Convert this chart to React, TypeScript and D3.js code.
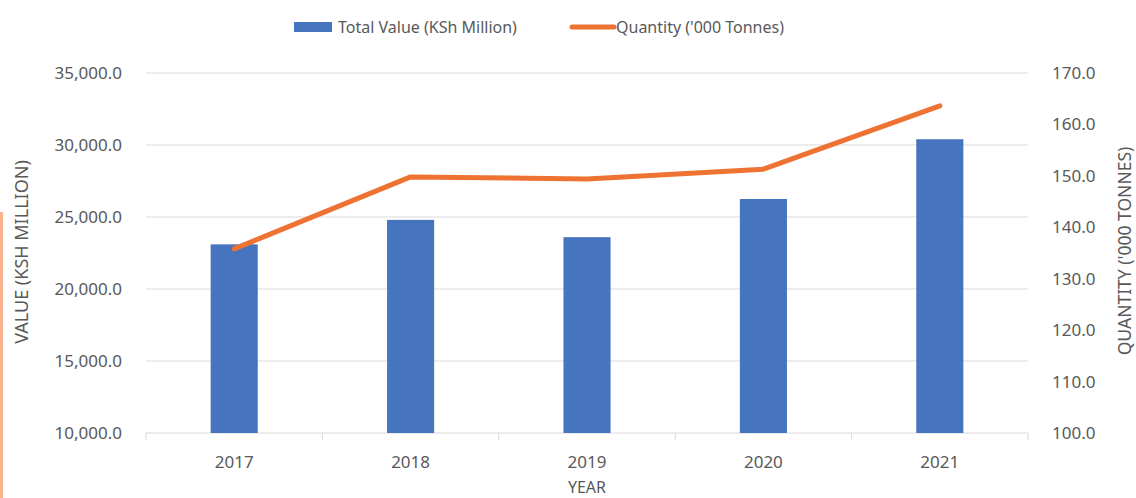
import React from "react";
import * as d3 from "d3";

const years = ["2017", "2018", "2019", "2020", "2021"];
const totalValue = [23100, 24800, 23600, 26250, 30400];
const quantity = [135.8, 149.8, 149.4, 151.3, 163.6];
const leftTicks = [10000, 15000, 20000, 25000, 30000, 35000];
const rightTicks = [100, 110, 120, 130, 140, 150, 160, 170];

const W = 1136;
const H = 498;
const FONT = "'Noto Sans', 'Open Sans', sans-serif";
const TEXT = "#595959";
const BLUE = "#4674BE";
const ORANGE = "#EE7232";
const GRID = "#D9D9D9";

export default function App() {
  const x = d3.scaleBand<string>().domain(years).range([146, 1028]).paddingInner(0.733).paddingOuter(0.3665);
  const yL = d3.scaleLinear().domain([10000, 35000]).range([433, 73]);
  const yR = d3.scaleLinear().domain([100, 170]).range([433, 73]);
  const fmtL = d3.format(",.1f");
  const fmtR = d3.format(".1f");
  const step = x.step();
  const line = d3
    .line<number>()
    .x((_, i) => (x(years[i]) as number) + x.bandwidth() / 2)
    .y((d) => yR(d));
  const boundaries = d3.range(years.length + 1).map((i) => 146 + i * step);

  return (
    <svg width={W} height={H} style={{ position: "absolute", left: 0, top: 0, background: "#fff" }} fontFamily={FONT}>
      <rect x={0} y={212} width={3} height={H - 212} fill="#F9B48F" />
      {/* legend */}
      <rect x={294} y={22} width={38} height={10} fill={BLUE} />
      <text x={338} y={27} dy="0.35em" fontSize={16} fill={TEXT}>Total Value (KSh Million)</text>
      <line x1={572} x2={614} y1={27} y2={27} stroke={ORANGE} strokeWidth={5} strokeLinecap="round" />
      <text x={616} y={27} dy="0.35em" fontSize={16} fill={TEXT}>Quantity ('000 Tonnes)</text>

      {/* gridlines */}
      {leftTicks.map((t) => (
        <line key={t} x1={146} x2={1028} y1={yL(t)} y2={yL(t)} stroke={GRID} strokeWidth={1} />
      ))}
      {boundaries.map((b, i) => (
        <line key={i} x1={b} x2={b} y1={433} y2={440} stroke={GRID} strokeWidth={1} />
      ))}

      {/* left ticks */}
      {leftTicks.map((t) => (
        <text key={t} x={122} y={yL(t)} dy="0.35em" textAnchor="end" fontSize={17} fill={TEXT}>
          {fmtL(t)}
        </text>
      ))}
      {/* right ticks */}
      {rightTicks.map((t) => (
        <text key={t} x={1052} y={yR(t)} dy="0.35em" textAnchor="start" fontSize={17} fill={TEXT}>
          {fmtR(t)}
        </text>
      ))}
      {/* x ticks */}
      {years.map((yv) => (
        <text key={yv} x={(x(yv) as number) + x.bandwidth() / 2} y={462} dy="0.35em" textAnchor="middle" fontSize={17} fill={TEXT}>
          {yv}
        </text>
      ))}

      {/* bars */}
      {totalValue.map((v, i) => (
        <rect key={i} x={x(years[i])} y={yL(v)} width={x.bandwidth()} height={yL(10000) - yL(v)} fill={BLUE} />
      ))}
      <path d={line(quantity) || ""} fill="none" stroke={ORANGE} strokeWidth={5} strokeLinejoin="round" strokeLinecap="round" />

      {/* axis titles */}
      <text transform="translate(22,252) rotate(-90)" dy="0.35em" textAnchor="middle" fontSize={18} fill={TEXT}>VALUE (KSH MILLION)</text>
      <text transform="translate(1125,251) rotate(-90)" dy="0.35em" textAnchor="middle" fontSize={17.5} fill={TEXT}>QUANTITY ('000 TONNES)</text>
      <text x={587} y={487} dy="0.35em" textAnchor="middle" fontSize={16} fill={TEXT}>YEAR</text>
    </svg>
  );
}
